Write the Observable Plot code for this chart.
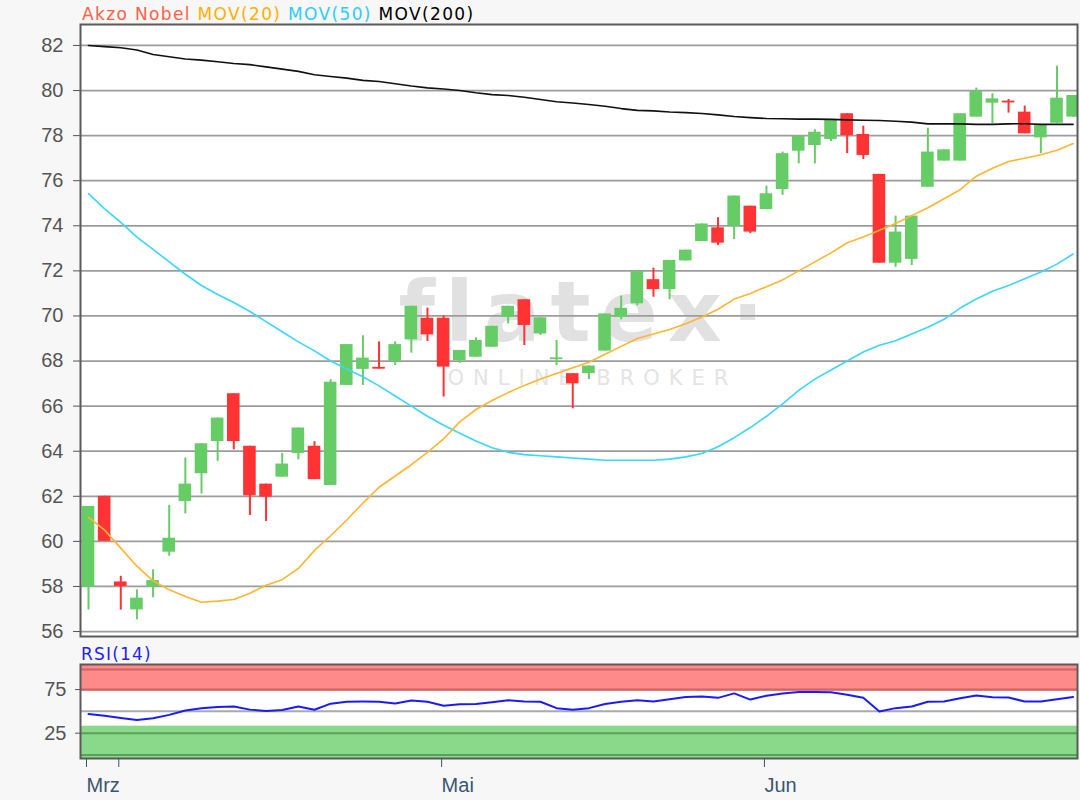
<!DOCTYPE html>
<html>
<head>
<meta charset="utf-8">
<script src="https://cdn.jsdelivr.net/npm/d3@7"></script>
<script src="https://cdn.jsdelivr.net/npm/@observablehq/plot@0.6"></script>
<style>
  html, body { margin: 0; padding: 0; background: #f7f7f7; }
  #wrap { position: relative; width: 1080px; height: 800px; overflow: hidden; }
  #main, #rsi { position: absolute; left: 0; }
  #main { top: 0; }
  #rsi { top: 640px; }
  #legend { position: absolute; left: 82px; top: 2px; font-family: "DejaVu Sans", sans-serif; font-size: 17px; letter-spacing: 1.35px; line-height: 24px; white-space: nowrap; }
  #rsiLabel { position: absolute; left: 81px; top: 642px; font-family: "DejaVu Sans", sans-serif; font-size: 17px; letter-spacing: 1.2px; line-height: 24px; color: #1f1fff; }
  svg { overflow: visible; }
</style>
</head>
<body>
<div id="wrap">
  <div id="main"></div>
  <div id="rsi"></div>
  <div id="legend"><span style="color:#ff6145">Akzo Nobel</span> <span style="color:#ffb000">MOV(20)</span> <span style="color:#2ccdfb">MOV(50)</span> <span style="color:#000">MOV(200)</span></div>
  <div id="rsiLabel">RSI(14)</div>
</div>
<script>
// ---- Data ----
const openVals  = [57.97,62.0,58.2,56.96,57.97,59.52,61.77,63.0,64.43,66.55,64.22,62.54,62.85,63.9,64.22,62.48,66.92,67.63,67.72,67.99,68.94,69.9,69.9,68.02,68.17,68.61,69.94,70.72,69.2,68.06,67.44,67.44,68.44,69.94,70.54,71.61,71.17,72.44,73.3,73.91,73.98,74.87,74.72,75.61,77.31,77.56,77.83,78.97,78.05,76.28,72.34,72.51,75.71,76.87,76.87,78.82,79.44,79.53,79.04,77.9,78.55,78.82];
const highVals  = [61.55,62.0,58.45,57.85,58.74,61.6,63.7,64.33,65.47,66.55,64.22,62.54,63.9,65.03,64.42,67.17,68.73,69.12,68.85,68.85,70.43,70.35,70.0,68.47,69.03,69.54,70.43,70.72,69.92,68.91,67.44,67.78,70.09,70.88,71.97,72.12,72.46,72.92,74.08,74.36,75.32,74.87,75.76,77.27,77.98,78.26,78.72,78.97,78.42,76.28,74.43,74.43,78.33,77.37,78.97,80.11,79.86,79.6,79.31,78.45,81.08,79.78];
const lowVals   = [56.96,60.0,56.95,56.52,57.5,59.34,61.22,62.1,63.55,64.06,61.15,60.88,62.85,63.62,62.74,62.48,66.92,66.92,67.64,67.8,68.35,68.87,66.4,67.9,68.17,68.61,69.65,68.69,69.13,67.8,65.88,67.18,68.44,69.83,70.46,70.83,70.72,72.44,73.3,73.13,73.39,73.65,74.72,75.35,76.75,76.75,77.74,77.2,76.94,72.34,72.16,72.24,75.71,76.87,76.87,78.82,78.53,79.0,78.08,77.2,78.53,78.82];
const closeVals = [61.55,60.0,58.0,57.48,58.26,60.14,62.54,64.33,65.47,64.43,62.02,61.96,63.43,65.03,62.74,67.06,68.73,68.13,67.64,68.73,70.43,69.16,67.73,68.47,68.91,69.54,70.43,69.58,69.92,68.14,66.99,67.78,70.09,70.34,71.97,71.17,72.46,72.92,74.08,73.23,75.32,73.72,75.42,77.2,77.98,78.15,78.72,78.0,77.12,72.34,73.72,74.43,77.27,77.37,78.97,79.96,79.63,79.45,78.08,78.45,79.66,79.78];
const mov20  = [61.06,60.5,59.7,58.9,58.25,57.85,57.55,57.3,57.35,57.42,57.7,58.05,58.3,58.8,59.6,60.25,60.95,61.7,62.4,62.9,63.4,63.95,64.55,65.3,65.85,66.25,66.6,66.92,67.2,67.45,67.7,67.95,68.3,68.65,69.0,69.2,69.4,69.65,69.95,70.3,70.75,71.0,71.3,71.6,72.0,72.4,72.8,73.25,73.5,73.8,74.1,74.45,74.8,75.2,75.6,76.2,76.55,76.85,77.0,77.15,77.35,77.65];
const mov50  = [75.43,74.75,74.15,73.5,72.95,72.4,71.85,71.35,70.95,70.6,70.2,69.75,69.3,68.85,68.45,68.0,67.65,67.3,66.9,66.45,66.0,65.55,65.15,64.8,64.45,64.15,63.95,63.85,63.8,63.75,63.7,63.65,63.6,63.6,63.6,63.6,63.65,63.75,63.9,64.2,64.6,65.05,65.55,66.1,66.7,67.2,67.6,68.0,68.4,68.7,68.9,69.2,69.5,69.85,70.35,70.75,71.1,71.35,71.65,71.95,72.3,72.75];
const mov200 = [82.0,81.95,81.9,81.8,81.6,81.5,81.4,81.35,81.28,81.2,81.15,81.05,80.95,80.85,80.7,80.62,80.55,80.45,80.4,80.3,80.2,80.12,80.07,80.0,79.9,79.82,79.78,79.7,79.6,79.5,79.45,79.38,79.3,79.2,79.12,79.1,79.05,79.02,78.98,78.92,78.85,78.8,78.76,78.75,78.73,78.73,78.72,78.7,78.68,78.67,78.64,78.6,78.52,78.52,78.52,78.5,78.5,78.52,78.53,78.5,78.5,78.5];
const rsi14  = [47,45,42.5,40,42,46,51,53.5,55,55.5,52,50.5,51.5,55.5,51.8,58.8,61,61.2,61,59,62.5,61,56.5,58.2,58.4,60.5,62.7,61.2,61,53.7,51.8,53.7,58.5,61,62.7,61.2,64,66.5,67,65.5,70.6,63.5,68,70.5,72.2,72.2,72,69,65.5,49.8,53.7,55.6,61,61.2,65,68.2,66.3,65.9,61.2,61.2,64,66.5];
const yTicks = [56,58,60,62,64,66,68,70,72,74,76,78,80,82];
const rsiTicks = [25,75];
const rsiRedLines = [98,75];
const rsiGreenLines = [25,0];
const xTickIdx = [0,2,22,42];
const xTickLabels = ["Mrz","","Mai","Jun"];

// ---- Build ----
const candles = openVals.map((o, i) => ({i, o, h: highVals[i], l: lowVals[i], c: closeVals[i]}));
const up = candles.filter(d => d.c >= d.o);
const down = candles.filter(d => d.c < d.o);
const GREEN = "#66cc66", RED = "#ff3333";
const xDomain = [-0.496, 61.27];
const halfW = 0.39;
const tickLabel = new Map(xTickIdx.map((d, k) => [d, xTickLabels[k]]));
const fontAxis = "'Liberation Sans', Arial, sans-serif";

const mainPlot = Plot.plot({
  width: 1080, height: 640,
  marginTop: 24, marginBottom: 4, marginLeft: 80, marginRight: 3,
  style: {background: "transparent", fontFamily: fontAxis, fontSize: "20px"},
  x: {type: "linear", domain: xDomain, axis: null},
  y: {domain: [55.78, 82.93], axis: null},
  marks: [
    Plot.frame({fill: "white", stroke: null}),
    Plot.text(["flatex·"], {frameAnchor: "top-left", dx: 318, dy: 257, text: d => d, textAnchor: "start", lineAnchor: "top", fontSize: 84, fontWeight: "bold", fontFamily: "DejaVu Sans, sans-serif", fill: "#e1e1e1"}),
    Plot.text(["ONLINE BROKER"], {frameAnchor: "top-left", dx: 367, dy: 346, text: d => d, textAnchor: "start", lineAnchor: "top", fontSize: 21, fontFamily: "DejaVu Sans, sans-serif", fill: "#e4e4e4"}),
    Plot.ruleY(yTicks, {stroke: "#9c9c9c", strokeWidth: 1.7}),
    Plot.axisY(yTicks, {tickSize: 7, tickPadding: 10, stroke: "#555", fill: "#555", fontSize: 20, fontFamily: fontAxis, tickFormat: d => String(d)}),
    Plot.ruleX(up, {x: "i", y1: "l", y2: "h", stroke: GREEN, strokeWidth: 2, clip: true}),
    Plot.ruleX(down, {x: "i", y1: "l", y2: "h", stroke: RED, strokeWidth: 2, clip: true}),
    Plot.rect(up, {x1: d => d.i - halfW, x2: d => d.i + halfW, y1: "o", y2: "c", fill: GREEN, clip: true}),
    Plot.rect(down, {x1: d => d.i - halfW, x2: d => d.i + halfW, y1: "o", y2: "c", fill: RED, clip: true}),
    Plot.line(mov200, {x: (d, i) => i, y: d => d, stroke: "#111", strokeWidth: 1.6}),
    Plot.line(mov50, {x: (d, i) => i, y: d => d, stroke: "#3ad6ff", strokeWidth: 1.6}),
    Plot.line(mov20, {x: (d, i) => i, y: d => d, stroke: "#ffb52e", strokeWidth: 1.6}),
    Plot.frame({stroke: "#5a5a5a", strokeWidth: 2})
  ]
});

d3.select(mainPlot).selectAll("text").each(function() {
  if (this.textContent === "flatex·") this.setAttribute("letter-spacing", "10");
  if (this.textContent === "ONLINE BROKER") this.setAttribute("letter-spacing", "9");
});
document.getElementById("main").append(mainPlot);

const rsiPlot = Plot.plot({
  width: 1080, height: 160,
  marginTop: 24, marginBottom: 42, marginLeft: 80, marginRight: 3,
  style: {background: "transparent", fontFamily: fontAxis, fontSize: "20px"},
  x: {type: "linear", domain: xDomain, axis: null},
  y: {domain: [-4, 103.7], axis: null},
  marks: [
    Plot.frame({fill: "white", stroke: null}),
    Plot.rectY([0], {y1: 72.8, y2: 103.7, fill: "#ff8a8a"}),
    Plot.rectY([0], {y1: -4, y2: 33, fill: "#8ad88a"}),
    Plot.ruleY(rsiRedLines, {stroke: "#cf6464", strokeWidth: 2}),
    Plot.ruleY(rsiGreenLines, {stroke: "#5a9f5a", strokeWidth: 2}),
    Plot.ruleY([50], {stroke: "#aaaaaa", strokeWidth: 2}),
    Plot.line(rsi14, {x: (d, i) => i, y: d => d, stroke: "#1a1aff", strokeWidth: 2}),
    Plot.frame({stroke: "#5a5a5a", strokeWidth: 2}),
    Plot.axisY(rsiTicks, {tickSize: 5, tickPadding: 9, stroke: "#555", fill: "#555", fontSize: 20, fontFamily: fontAxis, tickFormat: d => String(d)}),
    Plot.axisX(xTickIdx, {tickSize: 9, tickPadding: 10, stroke: "#3a5670", fill: "#3a5670", fontSize: 20, fontFamily: fontAxis, textAnchor: "start", dx: -2, tickFormat: d => tickLabel.get(d)})
  ]
});
document.getElementById("rsi").append(rsiPlot);
</script>
</body>
</html>
